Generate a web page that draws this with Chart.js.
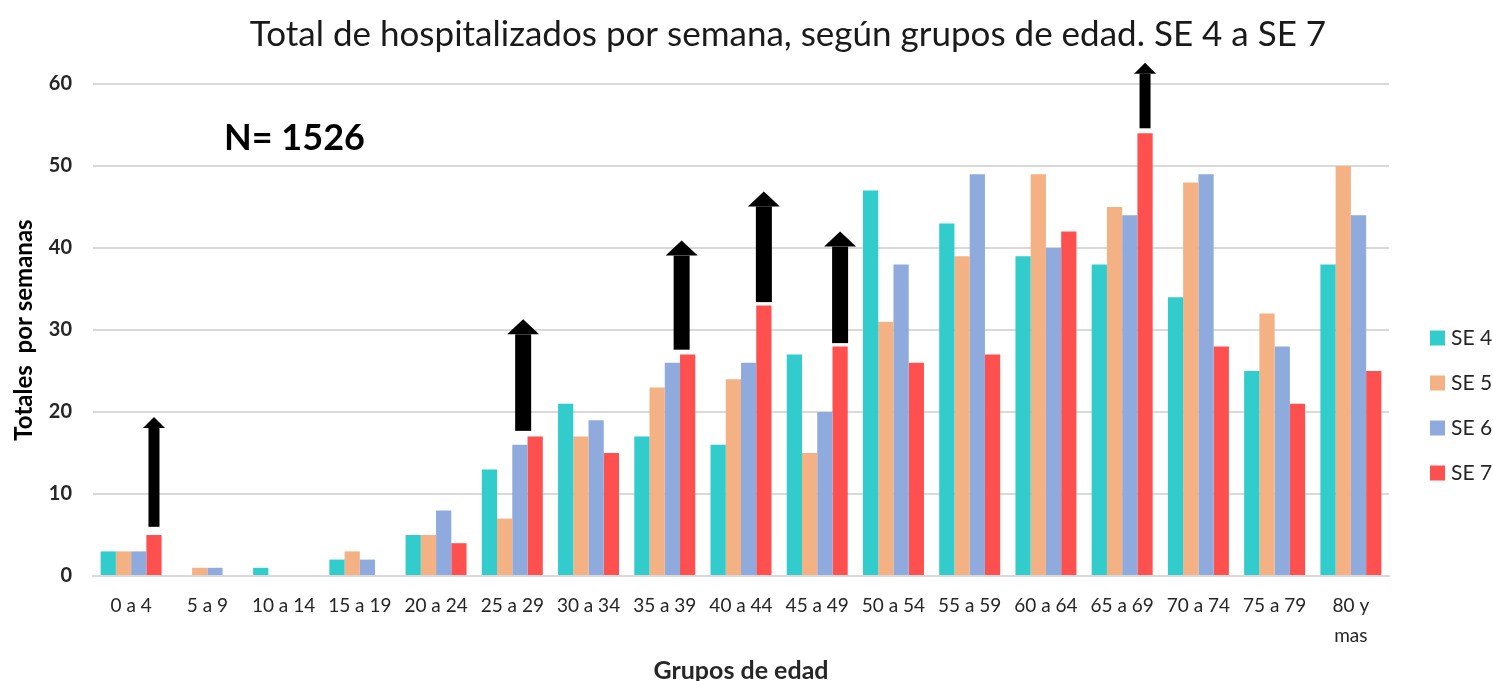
<!DOCTYPE html>
<html lang="es">
<head>
<meta charset="utf-8">
<title>Total de hospitalizados por semana</title>
<script src="https://cdn.jsdelivr.net/npm/chart.js@4.4.1/dist/chart.umd.min.js"></script>
<style>
  html, body { margin: 0; padding: 0; background: #fff; }
  #wrap { position: relative; width: 1493px; height: 681px; }
</style>
</head>
<body>
<div id="wrap"><canvas id="hospChart"></canvas></div>
<script>
// Grupos de edad (eje X)
const ageGroups = [
  '0 a 4', '5 a 9', '10 a 14', '15 a 19', '20 a 24', '25 a 29', '30 a 34',
  '35 a 39', '40 a 44', '45 a 49', '50 a 54', '55 a 59', '60 a 64',
  '65 a 69', '70 a 74', '75 a 79', ['80 y', 'mas']
];
const weekLabels = ['SE 4', 'SE 5', 'SE 6', 'SE 7'];

// Hospitalizados por semana epidemiológica
const se4 = [3, 0, 1, 2, 5, 13, 21, 17, 16, 27, 47, 43, 39, 38, 34, 25, 38];
const se5 = [3, 1, 0, 3, 5, 7, 17, 23, 24, 15, 31, 39, 49, 45, 48, 32, 50];
const se6 = [3, 1, 0, 2, 8, 16, 19, 26, 26, 20, 38, 49, 40, 44, 49, 28, 44];
const se7 = [5, 0, 0, 0, 4, 17, 15, 27, 33, 28, 26, 27, 42, 54, 28, 21, 25];

// Flechas de aumento sobre SE 7: desde / hasta (valores del eje Y)
const arrowFrom = [6.0, null, null, null, null, 17.7, null, 27.6, 33.4, 28.4, null, null, null, 54.6, null, null, null];
const arrowTo   = [19.4, null, null, null, null, 31.3, null, 40.9, 46.9, 42.0, null, null, null, 62.6, null, null, null];

const yMax = 60;
const yStep = 10;
const totalN = 1526;

const titleText = 'Total de hospitalizados por semana, según grupos de edad. SE 4 a SE 7';
const colors = ['#33CCCC', '#F4B183', '#8FAADC', '#FF5050'];
const FONT = 'Lato, Carlito, "Open Sans", sans-serif';

// Título, N, flechas y leyenda dibujados sobre el canvas
const extrasPlugin = {
  id: 'extras',
  afterDatasetsDraw(chart, args, opts) {
    const { ctx, scales: { y } } = chart;
    const meta = chart.getDatasetMeta(3);
    ctx.save();
    ctx.fillStyle = '#000';
    arrowFrom.forEach((from, i) => {
      if (from == null) return;
      const st = opts.arrowStyle[i];
      const x = meta.data[i].x + st.dx;
      const yFrom = y.getPixelForValue(from);
      const yTip = y.getPixelForValue(arrowTo[i]);
      const yBase = yTip + st.head;
      ctx.fillRect(x - st.shaft / 2, yBase, st.shaft, yFrom - yBase);
      ctx.beginPath();
      ctx.moveTo(x - st.headW / 2, yBase);
      ctx.lineTo(x, yTip);
      ctx.lineTo(x + st.headW / 2, yBase);
      ctx.closePath();
      ctx.fill();
    });
    ctx.restore();
  },
  afterDraw(chart, args, opts) {
    const { ctx } = chart;
    ctx.save();
    // título
    ctx.fillStyle = '#1a1a1a';
    ctx.font = `400 ${opts.titleSize}px ${FONT}`;
    ctx.textAlign = 'center';
    ctx.textBaseline = 'alphabetic';
    ctx.fillText(titleText, opts.titleX, opts.titleY);
    // N total
    ctx.fillStyle = '#000';
    ctx.font = `700 36px ${FONT}`;
    ctx.textAlign = 'left';
    ctx.fillText('N= ' + totalN, 224, 150);
    // leyenda
    ctx.font = `400 21px ${FONT}`;
    ctx.textBaseline = 'middle';
    chart.data.datasets.forEach((ds, i) => {
      const cy = opts.legendTop + i * opts.legendGap;
      ctx.fillStyle = ds.backgroundColor;
      ctx.fillRect(1430, cy - 7.5, 15, 15);
      ctx.fillStyle = '#262626';
      ctx.fillText(ds.label, 1451, cy);
    });
    ctx.restore();
  }
};

const small = { shaft: 11, headW: 22, head: 11, dx: 0 };
const large = { shaft: 16, headW: 32, head: 15, dx: 0 };

new Chart(document.getElementById('hospChart'), {
  type: 'bar',
  data: {
    labels: ageGroups,
    datasets: [se4, se5, se6, se7].map((values, i) => ({
      label: weekLabels[i],
      data: values,
      backgroundColor: colors[i],
      categoryPercentage: 0.8,
      barPercentage: 1.0
    }))
  },
  options: {
    responsive: true,
    maintainAspectRatio: false,
    animation: false,
    layout: { padding: { top: 84, right: 104, bottom: 0, left: 0 } },
    plugins: {
      legend: { display: false },
      tooltip: { enabled: false },
      extras: {
        titleSize: 35, titleX: 788, titleY: 46,
        legendTop: 338, legendGap: 45,
        arrowStyle: [
          small, null, null, null, null,
          { ...large, dx: -12 }, null,
          { ...large, dx: -6 }, large, large,
          null, null, null, small, null, null, null
        ]
      }
    },
    scales: {
      x: {
        grid: { display: false, drawTicks: false },
        border: { display: true, color: '#d9d9d9', width: 2 },
        ticks: {
          autoSkip: false, maxRotation: 0, padding: 15,
          color: '#262626',
          font: { family: FONT, size: 19, lineHeight: '30px' }
        },
        title: {
          display: true, text: 'Grupos de edad', color: '#262626',
          font: { family: FONT, size: 25, weight: 'bold' },
          padding: { top: 0, bottom: -5 }
        },
        afterFit(scale) { scale.height = 105; }
      },
      y: {
        min: 0, max: yMax,
        grid: { color: '#d9d9d9', lineWidth: 2, drawTicks: false },
        border: { display: false },
        ticks: {
          stepSize: yStep, padding: 21, color: '#262626',
          font: { family: FONT, size: 20, weight: 'bold' }
        },
        title: {
          display: true, text: 'Totales  por semanas', color: '#000',
          font: { family: FONT, size: 24, weight: 'bold' },
          padding: { top: 10, bottom: 0 }
        },
        afterFit(scale) { scale.width = 93; }
      }
    }
  },
  plugins: [extrasPlugin]
});
</script>
</body>
</html>
